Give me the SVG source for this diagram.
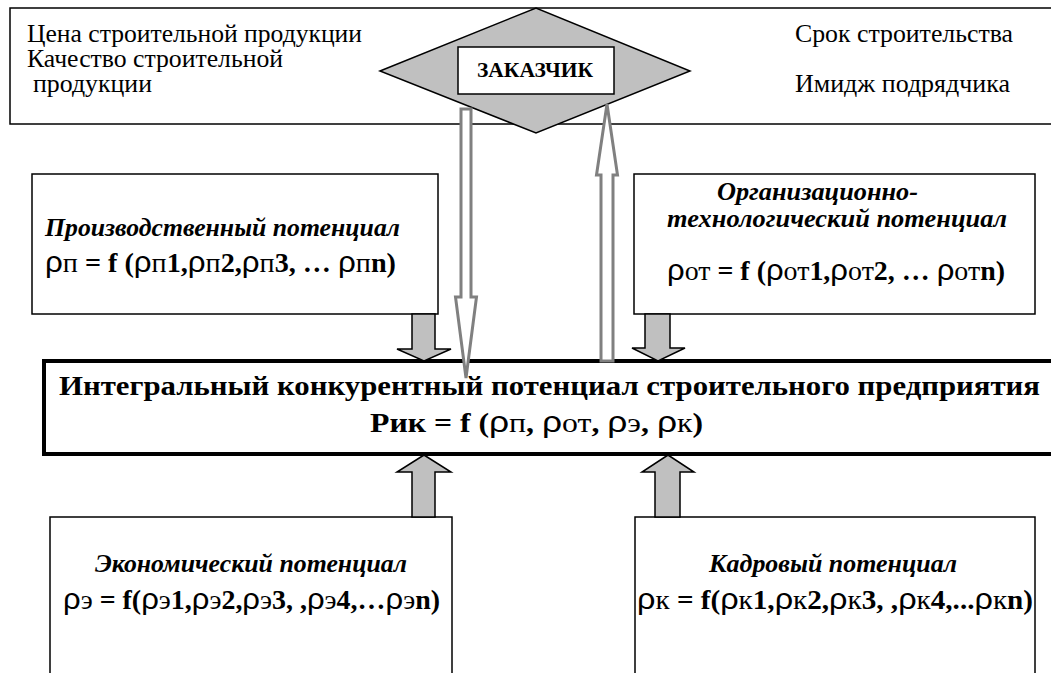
<svg xmlns="http://www.w3.org/2000/svg" width="1051" height="673" viewBox="0 0 1051 673">
<style>
  .box{fill:#fff;stroke:#000;stroke-width:1.5}
  .main{fill:#fff;stroke:#000;stroke-width:4}
  .t{font-family:"Liberation Serif","Times New Roman",serif;font-size:25px;fill:#000}
  .bi{font-family:"Liberation Serif","Times New Roman",serif;font-size:26px;font-weight:bold;font-style:italic;fill:#000}
  .f{font-family:"Liberation Serif","Times New Roman",serif;font-size:27px;font-weight:bold;fill:#000}
  .r{font-family:"Liberation Sans","DejaVu Sans",sans-serif;font-weight:normal;font-size:30px}
  .s{font-weight:normal}
  .block{fill:#c0c0c0;stroke:#000;stroke-width:1.5}
  .dbl{fill:#fff;stroke:#808080;stroke-width:3}
</style>
<rect width="1051" height="673" fill="#fff"/>
<g id="customer-box">
  <rect class="box" x="10" y="8" width="1050" height="116"/>
  <text class="t" x="27" y="42" textLength="335" lengthAdjust="spacingAndGlyphs">Цена строительной продукции</text>
  <text class="t" x="27" y="67" textLength="256" lengthAdjust="spacingAndGlyphs">Качество строительной</text>
  <text class="t" x="33" y="92" textLength="119" lengthAdjust="spacingAndGlyphs">продукции</text>
  <text class="t" x="795" y="42" textLength="218" lengthAdjust="spacingAndGlyphs">Срок строительства</text>
  <text class="t" x="795" y="92" textLength="215" lengthAdjust="spacingAndGlyphs">Имидж подрядчика</text>
</g>
<g id="customer">
  <polygon points="380,71 536,8 690,71 536,133" fill="#c0c0c0" stroke="#000" stroke-width="1.5"/>
  <rect x="458" y="47" width="156" height="47" fill="#fff" stroke="#000" stroke-width="1.5"/>
  <text x="477" y="77" font-family="Liberation Serif, Times New Roman, serif" font-size="20" font-weight="bold" textLength="116" lengthAdjust="spacingAndGlyphs">ЗАКАЗЧИК</text>
</g>
<g id="production">
  <rect class="box" x="32" y="174" width="406" height="140"/>
  <text class="bi" x="45" y="236" textLength="355" lengthAdjust="spacingAndGlyphs">Производственный потенциал</text>
  <text class="f" x="45" y="272" textLength="351" lengthAdjust="spacingAndGlyphs"><tspan class="r">ρ</tspan><tspan class="s">п</tspan> = f (<tspan class="r">ρ</tspan><tspan class="s">п</tspan>1,<tspan class="r">ρ</tspan><tspan class="s">п</tspan>2,<tspan class="r">ρ</tspan><tspan class="s">п</tspan>3, … <tspan class="r">ρ</tspan><tspan class="s">п</tspan>n)</text>
</g>
<g id="org-tech">
  <rect class="box" x="634" y="174" width="401" height="140"/>
  <text class="bi" x="717" y="200" font-size="22" textLength="201" lengthAdjust="spacingAndGlyphs">Организационно-</text>
  <text class="bi" x="667" y="227" font-size="22" textLength="340" lengthAdjust="spacingAndGlyphs">технологический потенциал</text>
  <text class="f" x="667" y="280" textLength="338" lengthAdjust="spacingAndGlyphs"><tspan class="r">ρ</tspan><tspan class="s">от</tspan> = f (<tspan class="r">ρ</tspan><tspan class="s">от</tspan>1,<tspan class="r">ρ</tspan><tspan class="s">от</tspan>2, … <tspan class="r">ρ</tspan><tspan class="s">от</tspan>n)</text>
</g>
<g id="integral">
  <rect class="main" x="44" y="361" width="1012" height="93"/>
  <text class="f" x="59" y="395" font-size="27" textLength="981" lengthAdjust="spacingAndGlyphs">Интегральный конкурентный потенциал строительного предприятия</text>
  <text class="f" x="370" y="432" textLength="333" lengthAdjust="spacingAndGlyphs">Pик = f (<tspan class="r">ρ</tspan><tspan class="s">п</tspan>,  <tspan class="r">ρ</tspan><tspan class="s">от</tspan>,  <tspan class="r">ρ</tspan><tspan class="s">э</tspan>,  <tspan class="r">ρ</tspan><tspan class="s">к</tspan>)</text>
</g>
<g id="economic">
  <rect class="box" x="50" y="517" width="402" height="170"/>
  <text class="bi" x="95" y="572" textLength="312" lengthAdjust="spacingAndGlyphs">Экономический потенциал</text>
  <text class="f" x="63" y="609" textLength="377" lengthAdjust="spacingAndGlyphs"><tspan class="r">ρ</tspan><tspan class="s">э</tspan> = f(<tspan class="r">ρ</tspan><tspan class="s">э</tspan>1,<tspan class="r">ρ</tspan><tspan class="s">э</tspan>2,<tspan class="r">ρ</tspan><tspan class="s">э</tspan>3, ,<tspan class="r">ρ</tspan><tspan class="s">э</tspan>4,…<tspan class="r">ρ</tspan><tspan class="s">э</tspan>n)</text>
</g>
<g id="personnel">
  <rect class="box" x="635" y="517" width="400" height="170"/>
  <text class="bi" x="709" y="572" textLength="248" lengthAdjust="spacingAndGlyphs">Кадровый потенциал</text>
  <text class="f" x="637" y="609" textLength="396" lengthAdjust="spacingAndGlyphs"><tspan class="r">ρ</tspan><tspan class="s">к</tspan> = f(<tspan class="r">ρ</tspan><tspan class="s">к</tspan>1,<tspan class="r">ρ</tspan><tspan class="s">к</tspan>2,<tspan class="r">ρ</tspan><tspan class="s">к</tspan>3, ,<tspan class="r">ρ</tspan><tspan class="s">к</tspan>4,...<tspan class="r">ρ</tspan><tspan class="s">к</tspan>n)</text>
</g>
<g id="connectors">
  <polygon class="dbl" points="461,109 471,109 471,297 476.5,297 466,378 455.5,297 461,297"/>
  <polygon class="dbl" points="601,361 613,361 613,175 617.5,175 607,104 596.5,175 601,175"/>
  <polygon class="block" points="412,314 435,314 435,349 451,349 424,361 397,349 412,349"/>
  <polygon class="block" points="645,314 670,314 670,348 685,348 658,361 632,348 645,348"/>
  <polygon class="block" points="412,517 435,517 435,472 451,472 424,455 397,472 412,472"/>
  <polygon class="block" points="655,517 680,517 680,472 694,472 668,455 642,472 655,472"/>
</g>
</svg>
